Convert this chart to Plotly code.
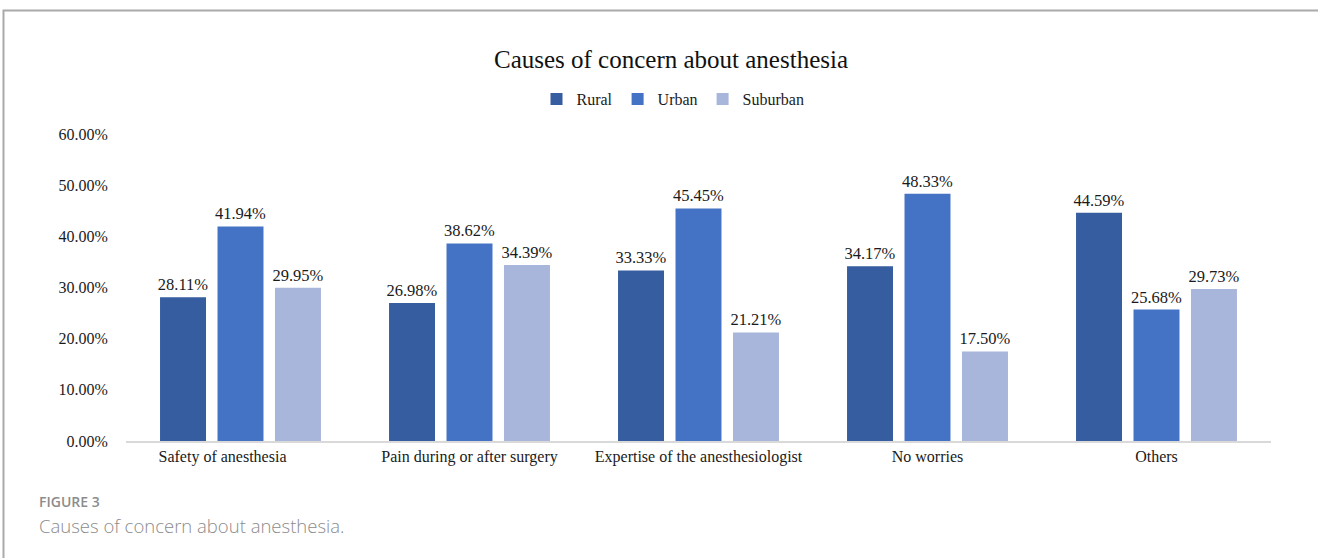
import plotly.graph_objects as go

categories = ["Safety of anesthesia", "Pain during or after surgery",
              "Expertise of the anesthesiologist", "No worries", "Others"]
rural = [28.11, 26.98, 33.33, 34.17, 44.59]
urban = [41.94, 38.62, 45.45, 48.33, 25.68]
suburban = [29.95, 34.39, 21.21, 17.50, 29.73]
series_names = ["Rural", "Urban", "Suburban"]
colors = ["#375DA1", "#4472C4", "#A9B6DB"]
y_ticks = [0, 10, 20, 30, 40, 50, 60]

serif = "Liberation Serif, Times New Roman, serif"

fig = go.Figure()
for name, vals, col in zip(series_names, [rural, urban, suburban], colors):
    fig.add_trace(go.Bar(
        x=categories, y=vals, name=name, marker_color=col,
        marker_line_width=0,
        texttemplate="%{y:.2f}%", textposition="outside",
        constraintext="none",
        textfont=dict(family=serif, size=16.5, color="#1a1a1a"),
        cliponaxis=False,
    ))

L, R, T, B = 126, 47, 134, 117
W, H = 1318, 558
pw, ph = W - L - R, H - T - B

def px(x):
    return (x - L) / pw

def py(y):
    return (H - B - y) / ph

tick_text = [c + ("\u00a0" * 9 if i == 0 else "") for i, c in enumerate(categories)]

fig.update_layout(
    width=W, height=H,
    margin=dict(l=L, r=R, t=T, b=B, pad=0),
    paper_bgcolor="white", plot_bgcolor="white",
    barmode="group", bargap=0.247, bargroupgap=0.2,
    title=dict(text="Causes of concern about anesthesia",
               font=dict(family=serif, size=25, color="#111111"),
               x=671 / W, xanchor="center", xref="container",
               y=1 - 59 / H, yanchor="middle", yref="container"),
    legend=dict(orientation="h", x=px(673), xanchor="center",
                y=py(99), yanchor="middle",
                font=dict(family=serif, size=16, color="#1a1a1a"),
                itemwidth=30, tracegroupgap=0, bgcolor="rgba(0,0,0,0)"),
    font=dict(family=serif, size=16, color="#1a1a1a"),
    showlegend=True,
)
fig.update_xaxes(showline=True, linecolor="#D9D9D9", linewidth=2,
                 ticks="", showgrid=False,
                 tickvals=categories, ticktext=tick_text,
                 tickfont=dict(family=serif, size=16, color="#1a1a1a"))
fig.update_yaxes(range=[0, 60], tickvals=y_ticks,
                 ticktext=[f"{v:.2f}%" for v in y_ticks],
                 showgrid=False, zeroline=False, showline=False,
                 ticks="outside", ticklen=14, tickcolor="rgba(0,0,0,0)",
                 tickfont=dict(family=serif, size=16, color="#1a1a1a"))

# frame
fig.add_shape(type="rect", xref="paper", yref="paper",
              x0=px(3.5), x1=px(1330), y0=py(10.5), y1=py(600),
              line=dict(color="#AAAAAA", width=2), fillcolor="rgba(0,0,0,0)",
              layer="below")

sans = "Open Sans, Noto Sans, sans-serif"
fig.add_annotation(text="FIGURE 3", xref="paper", yref="paper",
                   x=px(37), y=py(501), xanchor="left", yanchor="middle",
                   showarrow=False,
                   font=dict(family=sans, size=14, color="#8C8C8C", weight=600))
fig.add_annotation(text="Causes of concern about anesthesia.", xref="paper", yref="paper",
                   x=px(37), y=py(525), xanchor="left", yanchor="middle",
                   showarrow=False,
                   font=dict(family=sans, size=18.5, color="#8C8C8C", weight=300))

fig.write_html("out.html")
